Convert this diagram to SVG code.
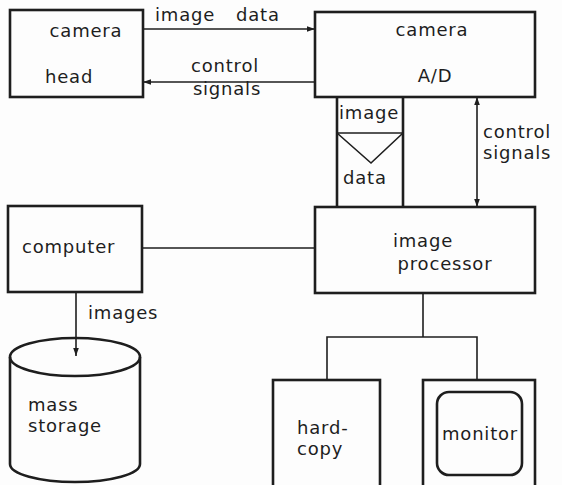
<svg xmlns="http://www.w3.org/2000/svg" width="562" height="485" viewBox="0 0 562 485">
  <style>
    .box { fill: none; stroke: #1e1e1e; stroke-width: 2.6; }
    .wire { fill: none; stroke: #1e1e1e; stroke-width: 1.6; }
    .lbl { font-family: "DejaVu Sans", "Liberation Sans", sans-serif; font-size: 18px; letter-spacing: 0.8px; fill: #1e1e1e; }
    .mid { text-anchor: middle; }
  </style>
  <defs>
    <marker id="arrow" viewBox="0 0 10 10" refX="10" refY="5" markerWidth="8" markerHeight="8" markerUnits="userSpaceOnUse" orient="auto-start-reverse">
      <path d="M0,1.5 L10,5 L0,8.5 Z" fill="#1e1e1e"/>
    </marker>
  </defs>
  <rect width="562" height="485" fill="#fdfdfd"/>

  <!-- connectors and their labels -->
  <g id="connectors">
    <line class="wire" x1="143" y1="29" x2="315" y2="29" marker-end="url(#arrow)"/>
    <line class="wire" x1="315" y1="82" x2="143" y2="82" marker-end="url(#arrow)"/>
    <line class="wire" x1="477" y1="97" x2="477" y2="207" marker-start="url(#arrow)" marker-end="url(#arrow)"/>
    <line class="wire" x1="142" y1="248" x2="315" y2="248"/>
    <line class="wire" x1="76" y1="292" x2="76" y2="356" marker-end="url(#arrow)"/>
    <polyline class="wire" points="423,293 423,337"/>
    <polyline class="wire" points="327,380 327,337 477,337 477,380"/>
    <!-- image data bus -->
    <line class="box" x1="337" y1="97" x2="337" y2="207"/>
    <line class="box" x1="403" y1="97" x2="403" y2="207"/>
    <line class="wire" x1="337" y1="133" x2="403" y2="133"/>
    <polyline class="wire" points="337,133 371,163 403,133"/>
    <text class="lbl" x="155" y="21">image<tspan x="236">data</tspan></text>
    <text class="lbl mid" x="225" y="72">control</text>
    <text class="lbl mid" x="227" y="95">signals</text>
    <text class="lbl" x="339" y="119">image</text>
    <text class="lbl" x="343" y="184">data</text>
    <text class="lbl" x="483" y="138">control</text>
    <text class="lbl" x="483" y="159">signals</text>
    <text class="lbl" x="88" y="319">images</text>
  </g>

  <g id="camera-head">
    <rect class="box" x="10" y="10" width="133" height="87"/>
    <text class="lbl mid" x="86" y="37">camera</text>
    <text class="lbl" x="45" y="83">head</text>
  </g>

  <g id="camera-ad">
    <rect class="box" x="315" y="12" width="220" height="85"/>
    <text class="lbl mid" x="432" y="36">camera</text>
    <text class="lbl mid" x="435" y="82">A/D</text>
  </g>

  <g id="computer">
    <rect class="box" x="8" y="206" width="134" height="86"/>
    <text class="lbl" x="22" y="253">computer</text>
  </g>

  <g id="image-processor">
    <rect class="box" x="315" y="207" width="220" height="86"/>
    <text class="lbl mid" x="423" y="247">image</text>
    <text class="lbl mid" x="445" y="270">processor</text>
  </g>

  <g id="mass-storage">
    <path class="box" d="M10,357 L10,464 A65,18 0 0 0 140,464 L140,357"/>
    <ellipse class="box" cx="75" cy="357" rx="65" ry="19"/>
    <text class="lbl" x="28" y="411">mass</text>
    <text class="lbl" x="28" y="432">storage</text>
  </g>

  <g id="hard-copy">
    <rect class="box" x="273" y="380" width="107" height="120"/>
    <text class="lbl" x="297" y="434">hard-</text>
    <text class="lbl" x="297" y="455">copy</text>
  </g>

  <g id="monitor">
    <rect class="box" x="423" y="380" width="112" height="120"/>
    <rect class="box" x="437" y="392" width="85" height="83" rx="12"/>
    <text class="lbl mid" x="480" y="440">monitor</text>
  </g>
</svg>
